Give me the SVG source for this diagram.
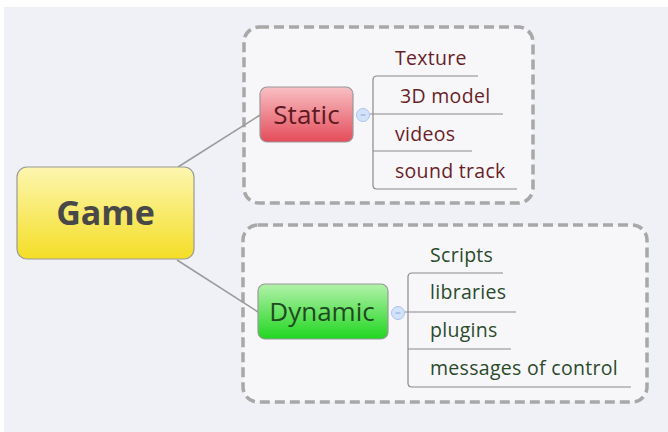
<svg xmlns="http://www.w3.org/2000/svg" width="668" height="432" viewBox="0 0 668 432">
  <defs>
    <linearGradient id="gGame" x1="0" y1="0" x2="0" y2="1">
      <stop offset="0" stop-color="#fdf6b0"/>
      <stop offset="1" stop-color="#f4de26"/>
    </linearGradient>
    <linearGradient id="gStatic" x1="0" y1="0" x2="0" y2="1">
      <stop offset="0" stop-color="#f8c0c4"/>
      <stop offset="1" stop-color="#e44c5a"/>
    </linearGradient>
    <linearGradient id="gDynamic" x1="0" y1="0" x2="0" y2="1">
      <stop offset="0" stop-color="#b2f2aa"/>
      <stop offset="1" stop-color="#20d620"/>
    </linearGradient>
  </defs>
  <style>
    .bound { fill: #f7f7fa; stroke: #a8a8a8; stroke-width: 3.5; stroke-dasharray: 10 5; }
    .topic { stroke: #999999; stroke-width: 1.2; }
    .link { fill: none; stroke: #9a9a9a; stroke-width: 1.5; }
    .branch { fill: none; stroke: #8a8a8a; stroke-width: 1.2; }
    .fold { fill: #d3e2fb; stroke: #a9c3ef; stroke-width: 1; }
    .foldbar { stroke: #8ba6d6; stroke-width: 1; }
    text { font-family: "Open Sans", "DejaVu Sans", sans-serif; }
    .root { font-size: 34px; font-weight: bold; fill: #484848; text-anchor: middle; }
    .main { font-size: 26px; text-anchor: middle; }
    .leaf { font-size: 19.5px; letter-spacing: 0.3px; }
    .red { fill: #5e1a22; }
    .green { fill: #1f4a1f; }
    .redleaf { fill: #6a1e28; }
    .greenleaf { fill: #2a4a2a; }
  </style>

  <!-- canvas -->
  <rect x="4" y="7" width="664" height="425" fill="#f0f1f7"/>

  <!-- boundaries -->
  <rect class="bound" x="244" y="27" width="289" height="176" rx="15"/>
  <rect class="bound" x="243" y="225" width="404" height="177" rx="15"/>

  <!-- connectors -->
  <g id="connectors">
    <path class="link" d="M178 167 L260 115"/>
    <path class="link" d="M177 260 L258 312"/>
    <!-- Static sub-branches -->
    <path class="branch" d="M478 76 H377 Q373 76 373 80 V185 Q373 189 377 189 H517"/>
    <path class="branch" d="M370 114 H503"/>
    <path class="branch" d="M373 151 H472"/>
    <!-- Dynamic sub-branches -->
    <path class="branch" d="M503 273 H412 Q408 273 408 277 V383 Q408 387 412 387 H631"/>
    <path class="branch" d="M405 312 H516"/>
    <path class="branch" d="M408 349 H511"/>
  </g>

  <g id="game">
    <rect class="topic" x="17" y="167" width="177" height="92" rx="10" fill="url(#gGame)"/>
    <text class="root" x="105.5" y="225">Game</text>
  </g>

  <g id="static">
    <rect class="topic" x="260" y="87" width="93" height="55" rx="7" fill="url(#gStatic)"/>
    <text class="main red" x="306.5" y="124">Static</text>
    <circle class="fold" cx="363" cy="115" r="6.5"/>
    <line class="foldbar" x1="360.5" y1="115" x2="365.5" y2="115"/>
  </g>

  <g id="dynamic">
    <rect class="topic" x="258" y="284" width="130" height="55" rx="7" fill="url(#gDynamic)"/>
    <text class="main green" x="322" y="321">Dynamic</text>
    <circle class="fold" cx="398" cy="313" r="6.5"/>
    <line class="foldbar" x1="395.5" y1="313" x2="400.5" y2="313"/>
  </g>

  <g id="texture"><text class="leaf redleaf" x="395" y="65">Texture</text></g>
  <g id="model3d"><text class="leaf redleaf" x="400" y="103">3D model</text></g>
  <g id="videos"><text class="leaf redleaf" x="395" y="141">videos</text></g>
  <g id="soundtrack"><text class="leaf redleaf" x="395" y="178">sound track</text></g>

  <g id="scripts"><text class="leaf greenleaf" x="430" y="262">Scripts</text></g>
  <g id="libraries"><text class="leaf greenleaf" x="430" y="299">libraries</text></g>
  <g id="plugins"><text class="leaf greenleaf" x="430" y="337">plugins</text></g>
  <g id="messages"><text class="leaf greenleaf" x="430" y="375">messages of control</text></g>
</svg>
